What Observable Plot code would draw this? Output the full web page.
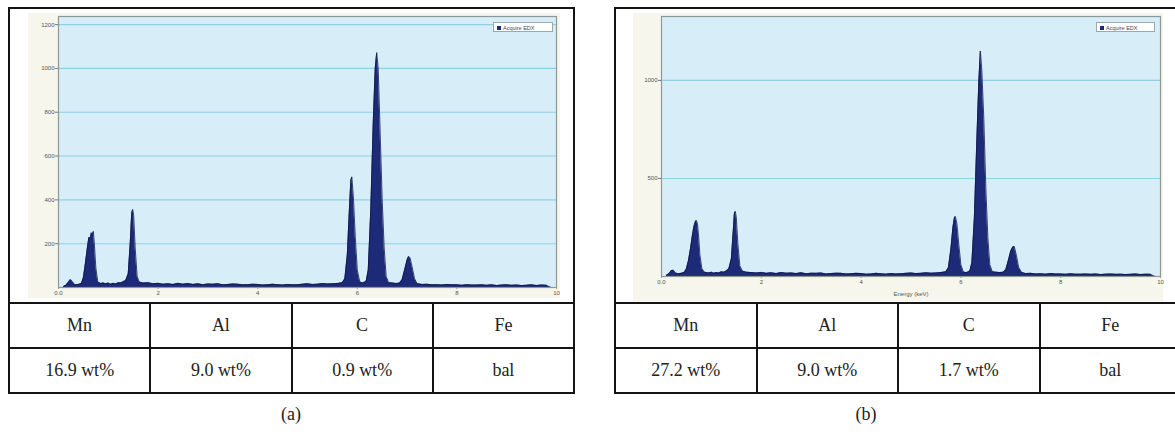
<!DOCTYPE html>
<html>
<head>
<meta charset="utf-8">
<script src="https://cdn.jsdelivr.net/npm/d3@7"></script>
<script src="https://cdn.jsdelivr.net/npm/@observablehq/plot@0.6"></script>
<style>
  html, body { margin: 0; padding: 0; background: #fff; width: 1175px; height: 434px; overflow: hidden; position: relative; font-family: "Liberation Serif", "Times New Roman", "DejaVu Serif", serif; }
  .abs { position: absolute; }
  .panel { position: absolute; border: 2.5px solid #141414; box-sizing: border-box; }
  table.comp { position: absolute; border-collapse: collapse; table-layout: fixed; }
  table.comp td { border: 2.5px solid #141414; text-align: center; font-family: "Liberation Serif", "Times New Roman", "DejaVu Serif", serif; font-size: 18px; color: #222; padding: 0; height: 43px; }
  .legend { position: absolute; background: #fff; border: 1px solid #9aa; font-family: "Liberation Sans", Arial, sans-serif; font-size: 5.5px; color: #445; height: 10px; line-height: 10px; padding: 0 3px 0 3px; box-sizing: border-box; white-space: nowrap; }
  .legend i { display: inline-block; width: 4px; height: 4px; background: #1d2a78; margin-right: 2px; vertical-align: 0px; }
  .cap { position: absolute; font-family: "Liberation Serif", "Times New Roman", "DejaVu Serif", serif; font-size: 18px; color: #222; transform: translate(-50%, -50%); }
</style>
</head>
<body>
<div id="root"></div>
<script>
// ---- data ----
const elements = ["Mn", "Al", "C", "Fe"];
const compA = ["16.9 wt%", "9.0 wt%", "0.9 wt%", "bal"];
const compB = ["27.2 wt%", "9.0 wt%", "1.7 wt%", "bal"];
const panelLabels = ["(a)", "(b)"];
const legendLabel = "Acquire EDX";
const xAxisLabelB = "Energy (keV)";
const xTicks = [0, 2, 4, 6, 8, 10];
const xTickLabels = ["0.0", "2", "4", "6", "8", "10"];
const yTicksA = [200, 400, 600, 800, 1000, 1200];
const yTicksB = [500, 1000];

// Spectrum (a): energy keV, counts
const energyA = [0.10,0.15,0.20,0.24,0.28,0.33,0.40,0.46,0.50,0.54,0.58,0.61,0.64,0.66,0.68,0.70,0.72,0.75,0.79,0.85,0.90,0.95,1.00,1.05,1.10,1.15,1.20,1.25,1.30,1.35,1.40,1.44,1.47,1.49,1.51,1.54,1.58,1.62,1.70,1.80,1.90,2.00,2.10,2.20,2.30,2.40,2.50,2.60,2.70,2.80,2.90,3.00,3.10,3.20,3.30,3.40,3.50,3.60,3.70,3.80,3.90,4.00,4.10,4.20,4.30,4.40,4.50,4.60,4.70,4.80,4.90,5.00,5.10,5.20,5.30,5.40,5.50,5.60,5.70,5.75,5.80,5.84,5.87,5.89,5.92,5.96,6.00,6.05,6.12,6.18,6.22,6.27,6.32,6.36,6.39,6.42,6.46,6.50,6.54,6.58,6.63,6.70,6.78,6.85,6.90,6.95,7.00,7.03,7.06,7.10,7.15,7.20,7.30,7.40,7.50,7.60,7.70,7.80,7.90,8.00,8.10,8.20,8.30,8.40,8.50,8.60,8.70,8.80,8.90,9.00,9.10,9.20,9.30,9.40,9.50,9.60,9.70,9.80,9.90,10.00];
const countsA = [4,10,24,36,26,12,14,18,45,110,180,228,226,250,238,256,200,90,25,18,21,17,20,15,19,16,22,21,26,32,62,200,340,356,330,180,50,25,20,22,17,19,15,17,14,19,15,18,14,17,13,16,15,17,12,14,16,15,12,13,15,14,11,12,15,13,11,14,12,13,15,17,14,15,18,16,17,18,22,40,150,350,488,505,420,230,80,25,20,30,80,350,750,1000,1072,1000,700,400,180,50,22,21,18,20,35,80,125,142,135,95,40,18,14,15,12,13,11,14,12,12,10,13,11,11,12,10,12,9,11,12,10,11,9,10,12,9,11,10];

// Spectrum (b)
const energyB = [0.10,0.15,0.20,0.24,0.28,0.33,0.40,0.46,0.50,0.54,0.58,0.62,0.65,0.68,0.70,0.72,0.74,0.77,0.81,0.86,0.90,0.95,1.00,1.05,1.10,1.15,1.20,1.25,1.30,1.35,1.40,1.44,1.46,1.48,1.50,1.53,1.57,1.62,1.70,1.80,1.90,2.00,2.10,2.20,2.30,2.40,2.50,2.60,2.70,2.80,2.90,3.00,3.10,3.20,3.30,3.40,3.50,3.60,3.70,3.80,3.90,4.00,4.10,4.20,4.30,4.40,4.50,4.60,4.70,4.80,4.90,5.00,5.10,5.20,5.30,5.40,5.50,5.60,5.70,5.75,5.80,5.84,5.87,5.89,5.92,5.96,6.00,6.05,6.12,6.18,6.22,6.27,6.32,6.36,6.39,6.42,6.46,6.50,6.54,6.58,6.63,6.70,6.78,6.85,6.90,6.95,7.00,7.04,7.07,7.11,7.16,7.22,7.30,7.40,7.50,7.60,7.70,7.80,7.90,8.00,8.10,8.20,8.30,8.40,8.50,8.60,8.70,8.80,8.90,9.00,9.10,9.20,9.30,9.40,9.50,9.60,9.70,9.80,9.90,10.00];
const countsB = [6,14,30,32,18,14,16,22,40,80,140,210,255,280,286,270,220,110,40,22,20,18,22,17,20,18,24,22,28,40,90,240,320,332,300,170,55,28,22,20,18,21,16,19,15,20,17,18,15,19,14,17,16,18,13,15,17,16,13,14,16,15,12,13,16,14,12,15,13,14,16,18,15,16,19,17,18,20,24,45,140,250,300,306,270,160,60,22,20,28,70,300,700,1000,1150,1050,800,450,200,60,24,22,20,22,35,80,130,150,153,110,45,20,15,16,13,14,12,15,13,13,11,14,12,12,13,11,13,10,12,13,11,12,10,11,13,10,12,11];

// ---- drawing ----
const root = document.getElementById("root");
const NAVY = "#1d2a78";

function spectrum(energy, counts, opts) {
  const data = energy.map((e, i) => ({e, c: counts[i]}));
  const marks = [
    Plot.frame({fill: "#d7edf7", stroke: "none"}),
    Plot.ruleY(opts.yTicks, {stroke: "#8fd0e8", strokeWidth: 1.1}),
    Plot.areaY(data, {x: "e", y: "c", fill: NAVY, curve: "linear"}),
    Plot.lineY(data, {x: "e", y: "c", stroke: "#10164a", strokeWidth: 0.8, curve: "linear"}),
    Plot.frame({stroke: "#8d9999", strokeWidth: 1.2}),
    Plot.axisY(opts.yTicks, {tickSize: 3, tickPadding: 1, fontSize: 6, color: "#555", stroke: "#777", label: null, tickFormat: d => String(d)}),
    Plot.axisX(xTicks, {tickSize: 2, tickPadding: 1, fontSize: 6, color: "#555", stroke: "#999", label: null, tickFormat: (d, i) => xTickLabels[i]})
  ];
  if (opts.xLabel) {
    marks.push(Plot.text([opts.xLabel], {frameAnchor: "bottom", dy: opts.xLabelDy, fontSize: 6, fill: "#555", text: d => d}));
  }
  const svg = Plot.plot({
    width: opts.width, height: opts.height,
    marginLeft: opts.ml, marginRight: opts.mr, marginTop: opts.mt, marginBottom: opts.mb,
    x: {domain: [0, 10], axis: null, label: null},
    y: {domain: [0, opts.ymax], axis: null, label: null},
    style: {background: "#f6f6ec", fontFamily: "Liberation Sans, Arial, sans-serif", overflow: "visible"},
    marks
  });
  svg.style.position = "absolute";
  svg.style.left = opts.left + "px";
  svg.style.top = opts.top + "px";
  return svg;
}

function el(tag, cls, style, html) {
  const d = document.createElement(tag);
  if (cls) d.className = cls;
  Object.assign(d.style, style || {});
  if (html != null) d.innerHTML = html;
  return d;
}

function table(left, top, width, vals) {
  const t = el("table", "comp", {left: left + "px", top: top + "px", width: width + "px"});
  const r1 = document.createElement("tr");
  elements.forEach(e => { const td = document.createElement("td"); td.textContent = e; r1.appendChild(td); });
  const r2 = document.createElement("tr");
  vals.forEach(v => { const td = document.createElement("td"); td.textContent = v; r2.appendChild(td); });
  t.appendChild(r1); t.appendChild(r2);
  return t;
}

// Panel (a)
root.appendChild(el("div", "panel", {left: "8px", top: "7px", width: "567px", height: "297px"}));
root.appendChild(spectrum(energyA, countsA, {left: 28, top: 13, width: 532, height: 285, ml: 30, mr: 4, mt: 3, mb: 11, ymax: 1237, yTicks: yTicksA}));
root.appendChild(table(8, 302, 567, compA));
const legA = el("div", "legend", {left: "493px", top: "22px", width: "60px"});
legA.innerHTML = "<i></i>" + legendLabel;
root.appendChild(legA);
root.appendChild(el("div", "cap", {left: "291px", top: "414px"}, panelLabels[0]));

// Panel (b)
root.appendChild(el("div", "panel", {left: "614px", top: "7px", width: "568px", height: "297px"}));
root.appendChild(spectrum(energyB, countsB, {left: 633, top: 13, width: 530, height: 288, ml: 28, mr: 3, mt: 3, mb: 25, ymax: 1326, yTicks: yTicksB, xLabel: xAxisLabelB, xLabelDy: 19}));
root.appendChild(table(614, 302, 568, compB));
const legB = el("div", "legend", {left: "1096px", top: "22px", width: "59px"});
legB.innerHTML = "<i></i>" + legendLabel;
root.appendChild(legB);
root.appendChild(el("div", "cap", {left: "866px", top: "414px"}, panelLabels[1]));
</script>
</body>
</html>
